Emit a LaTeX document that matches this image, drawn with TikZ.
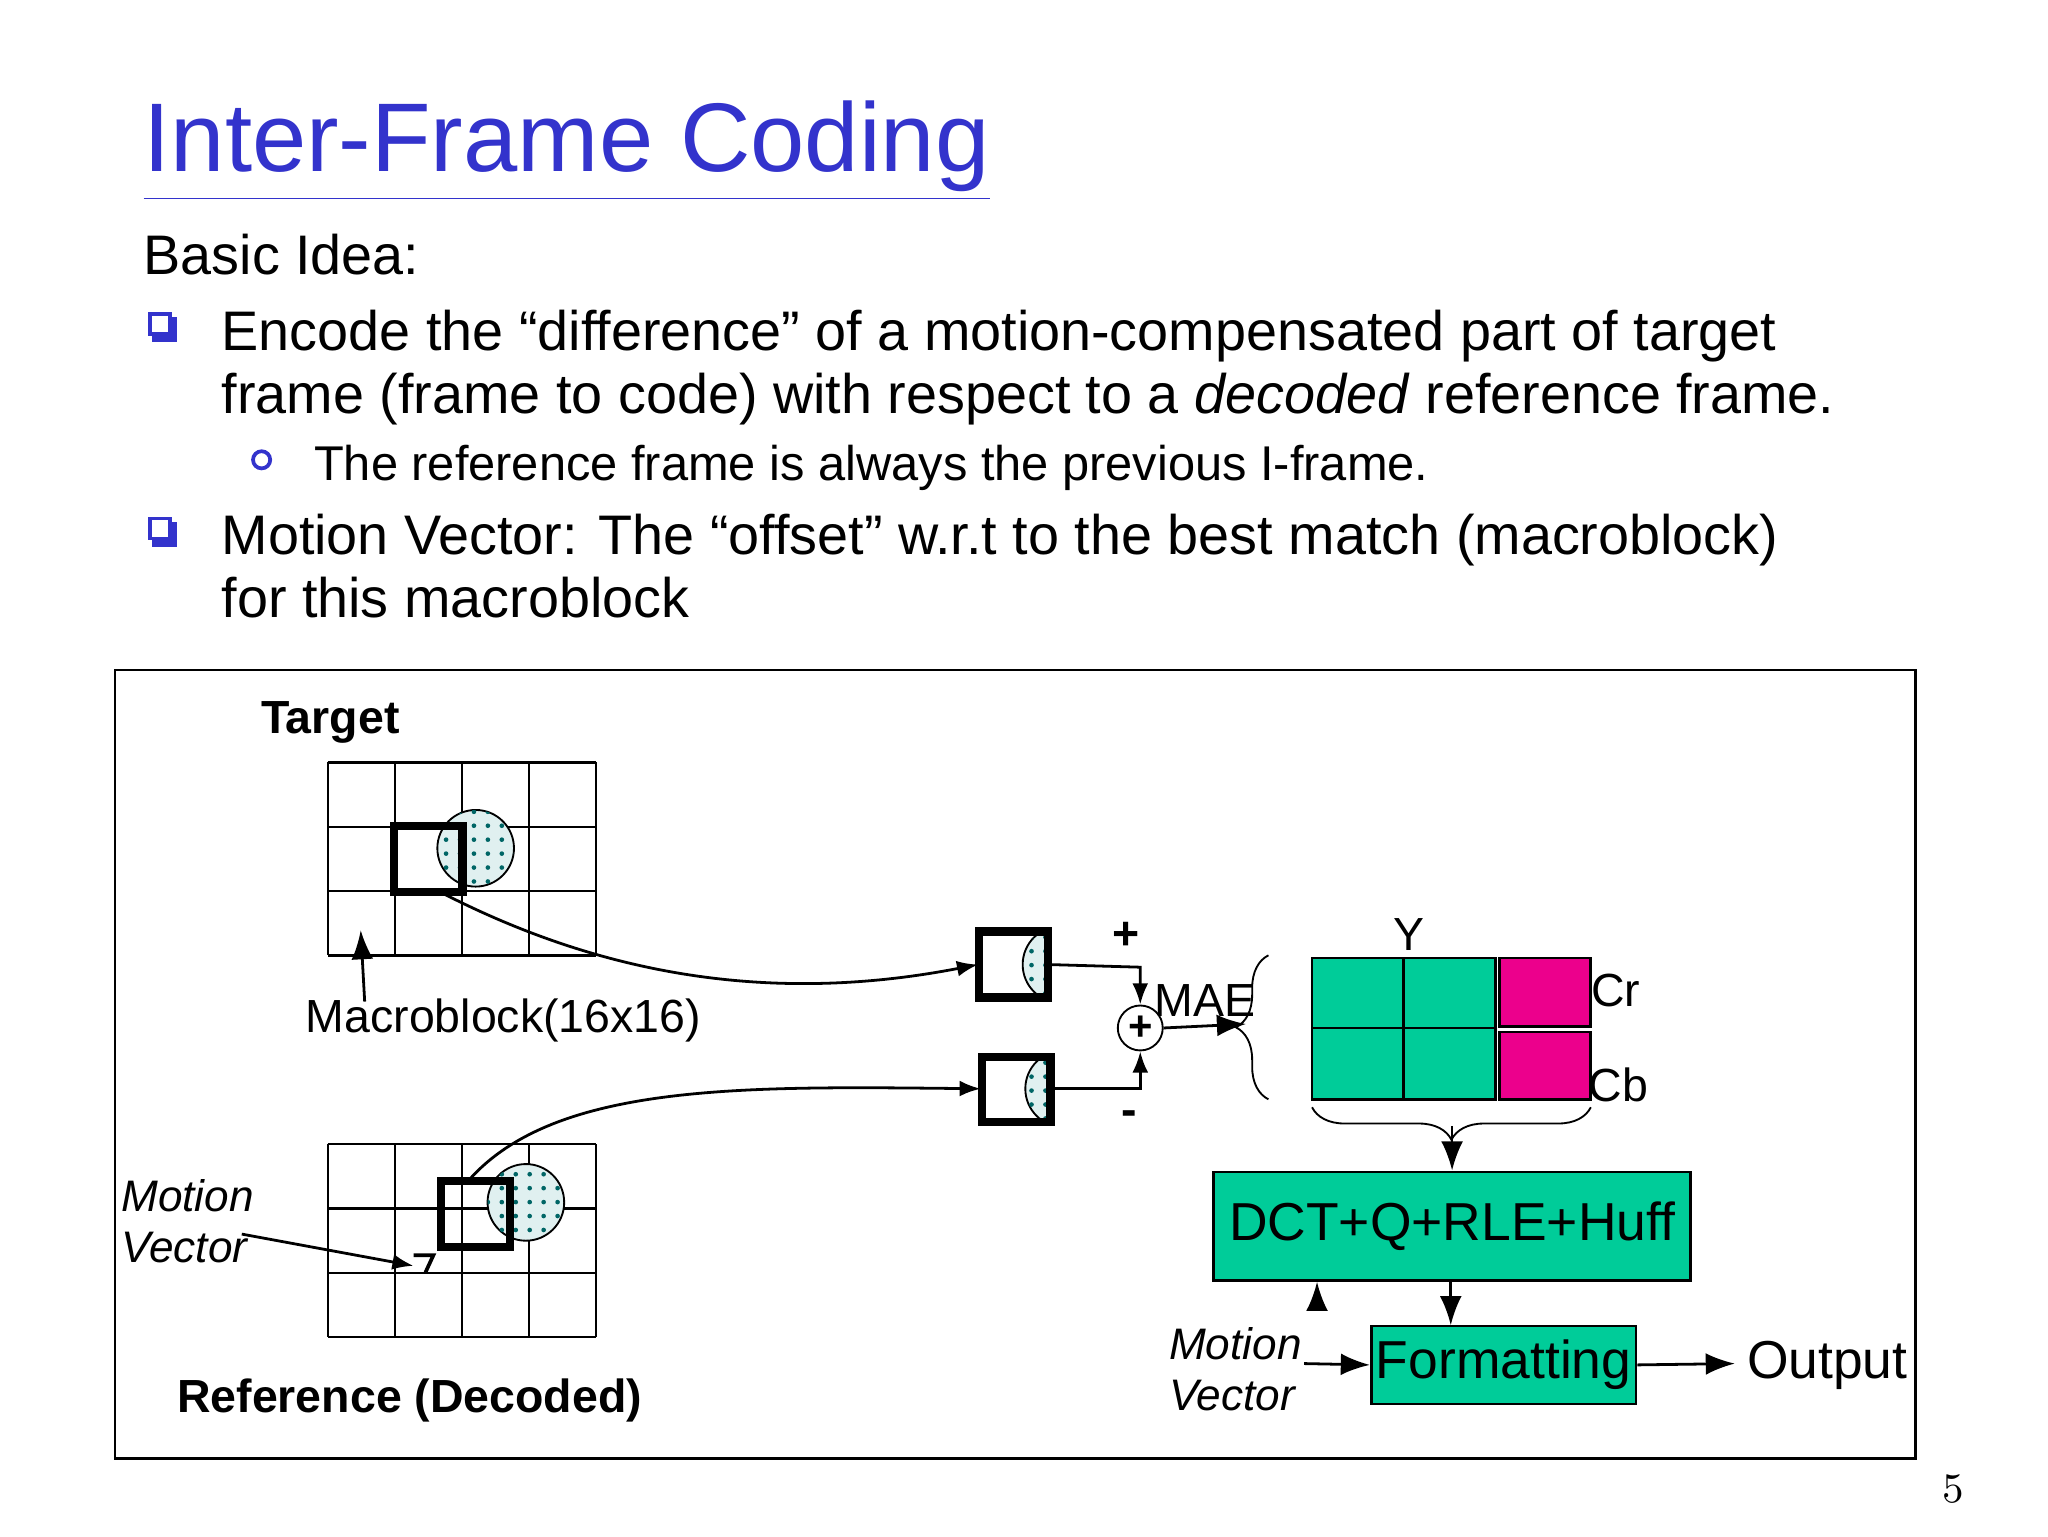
\documentclass[tikz,border=0pt]{standalone}
\usepackage{fontspec}
\setmainfont{Liberation Sans}
\usetikzlibrary{arrows.meta, patterns, decorations.pathreplacing}
\begin{document}
\begin{tikzpicture}[x=0.01cm, y=-0.01cm,
    cell/.style={draw, line width=0.5pt},
    mblock/.style={draw, line width=1.8pt},
    spot/.style={draw, fill=teal!12, postaction={pattern=dots, pattern color=teal!80!black}},
    green box/.style={draw, fill=color1, line width=0.6pt},
    flow/.style={-{Latex[length=2.2mm]}, line width=0.6pt},
    bullet/.style={draw=color2, fill=white, line width=0.8pt, minimum size=0.15cm, inner sep=0},
    body/.style={anchor=base west, font=\fontsize{12}{14}\selectfont},
    small/.style={font=\fontsize{10}{12}\selectfont}]
    \definecolor{color1}{rgb}{0.0,0.8,0.6}
    \definecolor{color2}{rgb}{0.2,0.2,0.8}
    \useasboundingbox (0,0) rectangle (1550,1163);
    \fill[white] (0,0) rectangle (1550,1163);
    % Title and text
    \node[anchor=base west, text=color2, font=\fontsize{21}{25}\selectfont, inner sep=0] (title) at (108,130) {\underline{Inter-Frame Coding}};
    \node[body, inner sep=0] (idea) at (108,208) {Basic Idea:};
    \foreach \y [count=\k] in {245,400} {
        \fill[color2] (115,\y-5) rectangle (134,\y+14);
        \node[bullet] (b\k) at (121,\y) {};
    }
    \node[body, inner sep=0] (t1) at (167,265) {Encode the “difference” of a motion-compensated part of target};
    \node[body, inner sep=0] (t2) at (167,313) {frame (frame to code) with respect to a \emph{decoded} reference frame.};
    \node[draw=color2, circle, line width=0.8pt, minimum size=0.13cm, inner sep=0] (b3) at (198,348) {};
    \node[anchor=base west, inner sep=0, font=\fontsize{10.5}{13}\selectfont] (t3) at (237,364) {The reference frame is always the previous I-frame.};
    \node[body, inner sep=0] (t4) at (167,420) {Motion Vector: The “offset” w.r.t to the best match (macroblock)};
    \node[body, inner sep=0] (t5) at (167,467) {for this macroblock};
    % Frame
    \draw[line width=0.6pt] (87,507) rectangle (1450,1104);
    % Target grid
    \node[small, font=\bfseries] (target) at (250,547) {Target};
    \foreach \i in {0,...,4} \draw[cell] (248+\i*50.75,577) -- (248+\i*50.75,723);
    \foreach \j in {0,...,3} \draw[cell] (248,577+\j*48.7) -- (451,577+\j*48.7);
    \draw[spot] (360,642) circle (29);
    \draw[mblock] (298,625) rectangle (350,675);
    \node[small] (mb) at (381,772) {Macroblock(16x16)};
    \coordinate (mbtip) at (273,704);
    \draw[flow] (276,758) -- (mbtip);
    % Reference grid
    \foreach \i in {0,...,4} \draw[cell] (248+\i*50.75,866) -- (248+\i*50.75,1012);
    \foreach \j in {0,...,3} \draw[cell] (248,866+\j*48.7) -- (451,866+\j*48.7);
    \draw[spot] (398,910) circle (29);
    \draw[mblock] (334,894) rectangle (386,944);
    \node[small, font=\itshape\fontsize{9.5}{11}\selectfont, align=left] (mv) at (142,924) {Motion\\Vector};
    \coordinate (mvtip) at (313,958);
    \draw[flow, -{Latex[length=1.6mm]}] (183,934) -- (mvtip);
    \draw[line width=0.8pt] (313,950) -- (328,950) -- (322,963);
    \node[small, font=\bfseries\fontsize{10}{12}\selectfont] (ref) at (310,1060) {Reference (Decoded)};
    % Small blocks
    \node[minimum width=0.52cm, minimum height=0.5cm, inner sep=0] (tb) at (767,730) {};
    \node[minimum width=0.52cm, minimum height=0.49cm, inner sep=0] (rb) at (769,824) {};
    \begin{scope}
        \clip (741,705) rectangle (793,755);
        \draw[spot] (803,730) circle (29);
    \end{scope}
    \begin{scope}
        \clip (743,800) rectangle (795,849);
        \draw[spot] (805,824) circle (29);
    \end{scope}
    \draw[mblock] (741,705) rectangle (793,755) (743,800) rectangle (795,849);
    \draw[flow, -{Latex[length=1.6mm]}] (333,675) .. controls (430,725) and (560,765) .. (tb.west);
    \draw[flow, -{Latex[length=1.6mm]}] (355,893) .. controls (420,820) and (560,822) .. (rb.west);
    % Summation
    \node[draw, circle, minimum size=0.34cm, inner sep=0, font=\bfseries\fontsize{9}{10}\selectfont] (sum) at (863,778) {+};
    \draw[flow, -{Latex[length=1.6mm]}] (tb.east) -- (863,732) -- (sum.north);
    \draw[flow, -{Latex[length=1.6mm]}] (rb.east) -- (863,824) -- (sum.south);
    \node[small, font=\bfseries] (plus) at (852,708) {+};
    \node[small, font=\bfseries] (minus) at (855,846) {-};
    \coordinate (mae) at (943,775);
    \draw[flow] (sum.east) -- (mae);
    \node[small] (maelabel) at (912,757) {MAE};
    \draw[decorate, decoration={brace, amplitude=7pt}] (960,832) -- (960,723);
    % Y Cr Cb
    \draw[green box] (993,725) rectangle (1132,832);
    \draw[line width=0.6pt] (1062,725) -- (1062,832) (993,778) -- (1132,778);
    \draw[green box, fill=magenta] (1135,725) rectangle (1204,777);
    \draw[green box, fill=magenta] (1135,781) rectangle (1204,832);
    \node[small] (ylabel) at (1066,707) {Y};
    \node[small] (cr) at (1223,750) {Cr};
    \node[small] (cb) at (1225,821) {Cb};
    \draw[decorate, decoration={brace, amplitude=7pt}] (1204,838) -- (993,838);
    % Coding chain
    \node[green box, minimum width=2.67cm, minimum height=0.82cm, font=\fontsize{11.5}{14}\selectfont] (dct) at (1099,928) {DCT+Q+RLE+Huff};
    \node[green box, minimum width=1.61cm, minimum height=0.59cm, inner sep=1pt, font=\fontsize{11.5}{14}\selectfont] (fmt) at (1138,1033) {Formatting};
    \draw[flow] (1099,852) -- (dct.north);
    \draw[flow] (dct.south -| fmt.north west) ++(-40,0) coordinate (d1);
    \draw[flow] (1098,969) -- (1098,1003);
    \node[small, font=\itshape\fontsize{9.5}{11}\selectfont, align=left] (mv2) at (935,1036) {Motion\\Vector};
    \draw[flow] (987,1032) -- (fmt.west);
    \node[font=\fontsize{11.5}{14}\selectfont] (out) at (1383,1033) {Output};
    \draw[flow] (fmt.east) -- (1313,1032);
    \node[font=\fontfamily{lmr}\selectfont\fontsize{9}{11}\selectfont] (page) at (1478,1127) {5};
\end{tikzpicture}
\end{document}
